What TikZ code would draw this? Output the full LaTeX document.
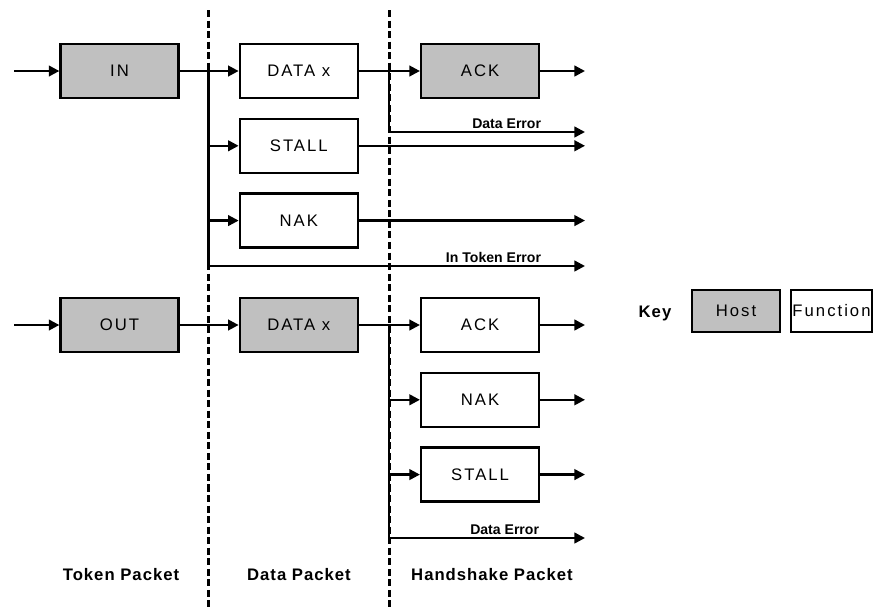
\documentclass[tikz,border=0pt]{standalone}
\usepackage{fontspec}
\setmainfont{Liberation Sans}
\newfontfamily\pixfont[LetterSpace=12]{Liberation Sans}
\newfontfamily\pixbold[LetterSpace=6]{Liberation Sans}
\usepackage{tikz}
\usetikzlibrary{arrows.meta}
\usetikzlibrary{positioning}
\definecolor{hostgray}{RGB}{192,192,192}
\tikzset{packet/.style={draw,line width=1.3pt,minimum width=2.36cm,minimum height=1.08cm,inner sep=0pt,font=\pixfont\fontsize{9.5}{11}\selectfont},
  host node/.style={packet,fill=hostgray},
  func node/.style={packet,fill=white},
  wire/.style={line width=1.3pt},
  flow/.style={wire,-{Triangle[length=6pt,width=6pt]}},
  err label/.style={font=\bfseries\fontsize{8}{9}\selectfont,anchor=south east,inner sep=1.5pt},
  phase label/.style={font=\pixbold\bfseries\fontsize{9.5}{11}\selectfont},
  divider/.style={line width=1.7pt,dash pattern=on 4pt off 2pt},
}

\begin{document}
\begin{tikzpicture}
		\useasboundingbox (0,0) rectangle (17.5,-12.2);
		%% dividers between the packet phases
		\coordinate (divAtop) at (4.17,-0.2);
		\coordinate (divAbot) at (4.17,-12.2);
		\coordinate (divBtop) at (7.78,-0.2);
		\coordinate (divBbot) at (7.78,-12.2);
		\draw[divider] (divAtop) -- (divAbot);
		\draw[divider] (divBtop) -- (divBbot);
		
		%% IN transaction
		\node[host node] (in) at (2.39,-1.42) {IN};
		\node[func node] (dataA) [right = 1.18cm of in] {DATA x};
		\node[host node] (ackA) [right = 1.22cm of dataA] {ACK};
		\node[func node] (stallA) [below = 0.37cm of dataA] {STALL};
		\node[func node] (nakA) [below = 0.37cm of stallA] {NAK};
		
		\coordinate (inStart) at (0.28,-1.42);
		\coordinate (splitA) at (4.17,-1.42);
		\coordinate (tokErr) at (4.17,-5.32);
		\coordinate (tokErrEnd) at (11.7,-5.32);
		\coordinate (splitB) at (7.78,-1.42);
		\coordinate (dataErr) at (7.78,-2.64);
		\coordinate (dataErrEnd) at (11.7,-2.64);
		\coordinate (ackAEnd) at (11.7,-1.42);
		
		\draw[flow] (inStart) -- (in);
		\draw[flow] (in) -- (dataA);
		\draw[flow] (dataA) -- (ackA);
		\draw[wire] (splitA) -- (tokErr);
		\draw[flow] (splitA |- stallA) -- (stallA);
		\draw[flow] (splitA |- nakA) -- (nakA);
		\draw[flow] (tokErr) -- (tokErrEnd);
		\draw[wire] (splitB) -- (dataErr);
		\draw[flow] (dataErr) -- (dataErrEnd);
		\draw[flow] (ackA) -- (ackAEnd);
		\draw[flow] (stallA) -- (stallA -| ackAEnd);
		\draw[flow] (nakA) -- (nakA -| ackAEnd);
		\node[err label] (dataErrLbl) at (10.88,-2.64) {Data Error};
		\node[err label] (tokErrLbl) at (10.88,-5.32) {In Token Error};
		
		%% OUT transaction
		\node[host node] (out) at (2.39,-6.5) {OUT};
		\node[host node] (dataB) [right = 1.18cm of out] {DATA x};
		\node[func node] (ackB) [right = 1.22cm of dataB] {ACK};
		\node[func node] (nakB) [below = 0.37cm of ackB] {NAK};
		\node[func node] (stallB) [below = 0.37cm of nakB] {STALL};
		
		\coordinate (outStart) at (0.28,-6.5);
		\coordinate (splitC) at (7.78,-6.5);
		\coordinate (dataErrB) at (7.78,-10.76);
		\coordinate (dataErrBEnd) at (11.7,-10.76);
		\coordinate (ackBEnd) at (11.7,-6.5);
		
		\draw[flow] (outStart) -- (out);
		\draw[flow] (out) -- (dataB);
		\draw[flow] (dataB) -- (ackB);
		\draw[wire] (splitC) -- (dataErrB);
		\draw[flow] (splitC |- nakB) -- (nakB);
		\draw[flow] (splitC |- stallB) -- (stallB);
		\draw[flow] (dataErrB) -- (dataErrBEnd);
		\draw[flow] (ackB) -- (ackBEnd);
		\draw[flow] (nakB) -- (nakB -| ackBEnd);
		\draw[flow] (stallB) -- (stallB -| ackBEnd);
		\node[err label] (dataErrBLbl) at (10.84,-10.76) {Data Error};
		
		%% key
		\node[phase label] (key) at (13.1,-6.26) {Key};
		\node[host node,minimum width=1.76cm,minimum height=0.84cm] (keyHost) at (14.72,-6.22) {Host};
		\node[func node,minimum width=1.62cm,minimum height=0.84cm] (keyFunc) at (16.63,-6.22) {Function};
		
		%% phase names
		\node[phase label] (tokenLbl) at (2.42,-11.5) {Token Packet};
		\node[phase label] (dataLbl) at (5.98,-11.5) {Data Packet};
		\node[phase label] (shakeLbl) at (9.84,-11.5) {Handshake Packet};
	\end{tikzpicture}
\end{document}
